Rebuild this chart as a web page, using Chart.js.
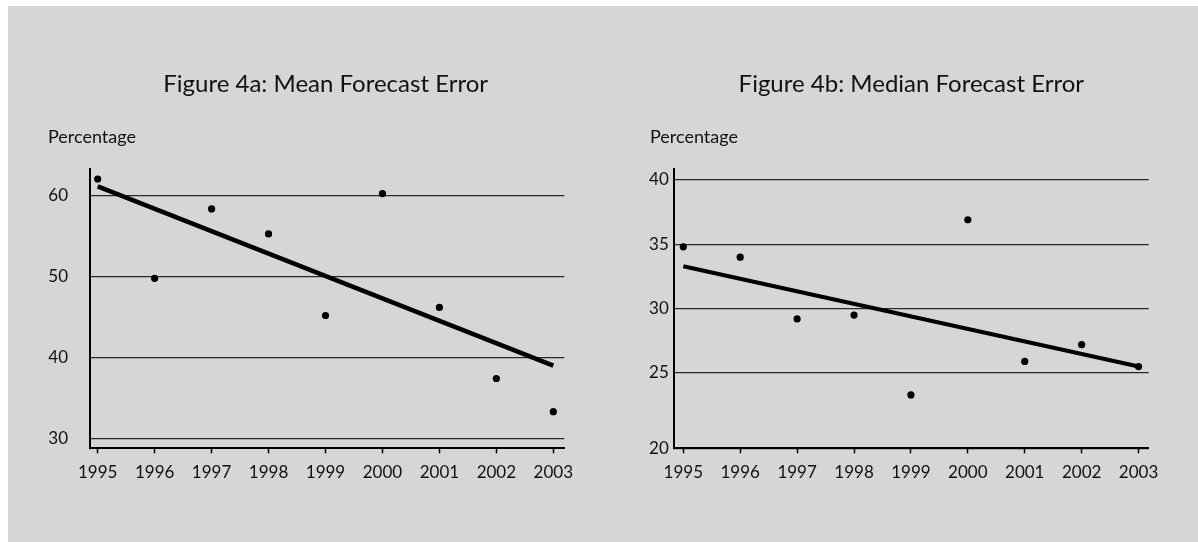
<!DOCTYPE html>
<html>
<head>
<meta charset="utf-8">
<script src="https://cdn.jsdelivr.net/npm/chart.js@4.4.1/dist/chart.umd.min.js"></script>
<style>
  html, body { margin: 0; padding: 0; background: #fff; }
  #wrap { position: relative; width: 1198px; height: 542px; overflow: hidden; }
  #panel { position: absolute; left: 8px; top: 6px; right: 0; bottom: 0; background: #d6d6d6; }
  canvas { position: absolute; top: 0; }
  #chartA { left: 0; }
  #chartB { left: 600px; }
</style>
</head>
<body>
<div id="wrap">
  <div id="panel"></div>
  <canvas id="chartA" width="600" height="542"></canvas>
  <canvas id="chartB" width="598" height="542"></canvas>
</div>
<script>
// data
const years = [1995, 1996, 1997, 1998, 1999, 2000, 2001, 2002, 2003];
const meanError = [62.1, 49.8, 58.4, 55.3, 45.2, 60.3, 46.2, 37.4, 33.3];
const medianError = [34.8, 34.0, 29.2, 29.5, 23.3, 36.9, 25.9, 27.2, 25.5];

// fitted trend lines, start and end only
const trendYears = [1995, 2003];
const meanTrend = [61.2, 39.0];
const medianTrend = [33.3, 25.5];

// axis ticks
const meanTicks = [30, 40, 50, 60];
const medianTicks = [20, 25, 30, 35, 40];

const FONT = "Lato, 'Open Sans', sans-serif";
const INK = "#111";

// draws the figure title and the "Percentage" label
const panelText = {
  id: "panelText",
  afterDraw(chart, args, opts) {
    const ctx = chart.ctx;
    const area = chart.chartArea;
    ctx.save();
    ctx.fillStyle = INK;
    ctx.textBaseline = "alphabetic";
    ctx.font = "24px " + FONT;
    ctx.textAlign = "center";
    ctx.fillText(opts.title, (area.left + area.right) / 2 + opts.titleShift, 91.5);
    ctx.font = "18px " + FONT;
    ctx.textAlign = "left";
    ctx.fillText("Percentage", opts.labelX, 142.5);
    ctx.restore();
  }
};

function makeChart(id, values, trend, ticks, cfg) {
  const pts = years.map((y, i) => ({ x: y, y: values[i] }));
  const line = trendYears.map((y, i) => ({ x: y, y: trend[i] }));
  return new Chart(document.getElementById(id), {
    type: "scatter",
    data: {
      datasets: [
        {
          type: "line",
          data: line,
          borderColor: "#000",
          borderWidth: cfg.trendWidth,
          borderCapStyle: "butt",
          pointRadius: 0,
          fill: false
        },
        {
          data: pts,
          backgroundColor: "#000",
          borderColor: "#000",
          borderWidth: 0,
          pointRadius: 3.6
        }
      ]
    },
    options: {
      responsive: false,
      animation: false,
      devicePixelRatio: 1,
      layout: { padding: { left: 30, right: cfg.padRight, top: 169, bottom: 0 } },
      plugins: {
        legend: { display: false },
        tooltip: { enabled: false },
        panelText: { title: cfg.title, titleShift: cfg.titleShift, labelX: cfg.labelX }
      },
      scales: {
        x: {
          type: "linear",
          min: cfg.xMin,
          max: cfg.xMax,
          afterBuildTicks: s => { s.ticks = years.map(v => ({ value: v })); },
          afterFit: s => { s.height = 542 - 448.3; s.paddingLeft = 0; s.paddingRight = 0; },
          ticks: {
            callback: v => String(v),
            color: INK,
            font: { family: FONT, size: 17 },
            padding: 9,
            maxRotation: 0,
            autoSkip: false
          },
          grid: {
            drawOnChartArea: false,
            drawTicks: true,
            tickLength: 5,
            tickColor: "#000",
            tickWidth: 1.5
          },
          border: { display: true, color: "#000", width: 2 }
        },
        y: {
          min: cfg.yMin,
          max: cfg.yMax,
          afterBuildTicks: s => {
            s.ticks = ticks.map((v, i) => ({ value: i === 0 && cfg.floorTick ? s.min : v }));
          },
          afterFit: s => { s.width = cfg.axisX - 30; s.paddingTop = 0; s.paddingBottom = 0; },
          ticks: {
            callback: (v, i) => String(ticks[i]),
            color: INK,
            font: { family: FONT, size: 17 },
            padding: cfg.yPad
          },
          grid: {
            drawTicks: false,
            color: "#2a2a2a",
            lineWidth: 1.2
          },
          border: { display: true, color: "#000", width: 2 }
        }
      }
    },
    plugins: [panelText]
  });
}

makeChart("chartA", meanError, meanTrend, meanTicks, {
  title: "Figure 4a: Mean Forecast Error",
  titleShift: -1.5,
  labelX: 48,
  axisX: 90,
  padRight: 600 - 564.3,
  xMin: 1994.865, xMax: 2003.193,
  yMin: 28.76, yMax: 63.34,
  yPad: 22,
  trendWidth: 4.6,
  floorTick: false
});

makeChart("chartB", medianError, medianTrend, medianTicks, {
  title: "Figure 4b: Median Forecast Error",
  titleShift: 0,
  labelX: 50,
  axisX: 73.8,
  padRight: 598 - 548.8,
  xMin: 1994.833, xMax: 2003.18,
  yMin: 19.15, yMax: 40.85,
  yPad: 5,
  trendWidth: 4,
  floorTick: true
});
</script>
</body>
</html>
